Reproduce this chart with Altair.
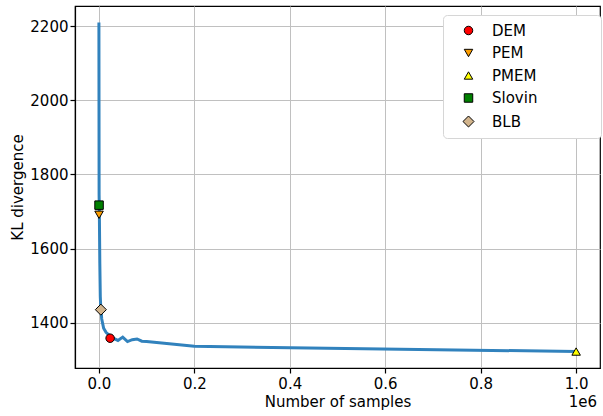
import altair as alt
import pandas as pd

# Curve: KL divergence vs number of samples
samples = [100, 500, 1000, 2000, 3000, 4000, 6000, 10000, 15000, 20000, 25000,
           30000, 40000, 50000, 60000, 70000, 80000, 90000, 100000, 200000, 1000000]
kl = [2210, 1745, 1700, 1560, 1470, 1440, 1410, 1385, 1374, 1368, 1364,
      1358, 1352, 1361, 1349, 1354, 1356, 1350, 1349, 1336, 1322]

# Method markers
methods = ["DEM", "PEM", "PMEM", "Slovin", "BLB"]
method_x = [23600, 400, 1000000, 400, 4200]
method_y = [1358, 1691, 1322, 1717, 1435]
method_colors = ["#ff0000", "#ff9f00", "#ffff00", "#008000", "#d2b48c"]
method_edges = ["black", "black", "black", "black", "black"]
method_shapes = ["circle", "triangle-down", "triangle-up", "square",
                 "M-1.3,0L0,-1.3L1.3,0L0,1.3Z"]

x_ticks = [0, 200000, 400000, 600000, 800000, 1000000]
y_ticks = [1400, 1600, 1800, 2000, 2200]

curve = pd.DataFrame({"samples": samples, "kl": kl})
pts = pd.DataFrame({"method": methods, "samples": method_x, "kl": method_y})
offset = pd.DataFrame({"t": ["1e6"]})

FONT = "DejaVu Sans"
FS = 15
W, H = 525, 362

xscale = alt.Scale(domain=[-50000, 1050000], nice=False, zero=False)
yscale = alt.Scale(domain=[1277.6, 2254.4], nice=False, zero=False)

xaxis = alt.Axis(values=x_ticks, labelExpr="format(datum.value/1e6, '.1f')",
                 title="Number of samples", grid=True, tickSize=5, labelPadding=3,
                 titlePadding=3)
yaxis = alt.Axis(values=y_ticks, format="d", title="KL divergence", grid=True,
                 tickSize=5, labelPadding=2, titlePadding=4)

line = alt.Chart(curve).mark_line(color="#3182bd", strokeWidth=3, clip=True).encode(
    x=alt.X("samples:Q", scale=xscale, axis=xaxis),
    y=alt.Y("kl:Q", scale=yscale, axis=yaxis),
)

# invisible (transparent) spacer title on the right widens the legend frame
leg = alt.Legend(title="MMMM", titleOrient="right", titlePadding=0,
                 titleFontSize=14, titleFont=FONT, titleOpacity=0)

points = alt.Chart(pts).mark_point(filled=True, strokeWidth=1, opacity=1,
                                   size=72).encode(
    x=alt.X("samples:Q", scale=xscale),
    y=alt.Y("kl:Q", scale=yscale),
    color=alt.Color("method:N", scale=alt.Scale(domain=methods, range=method_colors),
                    sort=methods, legend=leg),
    shape=alt.Shape("method:N", scale=alt.Scale(domain=methods, range=method_shapes),
                    sort=methods, legend=leg),
    stroke=alt.Stroke("method:N", scale=alt.Scale(domain=methods, range=method_edges),
                      sort=methods, legend=leg),
)

off = alt.Chart(offset).mark_text(align="right", baseline="middle", font=FONT,
                                  fontSize=FS, color="black").encode(
    text="t:N", x=alt.value(W - 3), y=alt.value(H + 34)
)

chart = alt.layer(line, points, off).properties(
    width=W, height=H,
    autosize=alt.AutoSizeParams(type="none"),
    padding={"left": 75, "top": 6, "right": 3, "bottom": 48},
).configure_view(
    stroke="black", strokeWidth=1.2
).configure_axis(
    labelFont=FONT, titleFont=FONT, labelFontSize=FS, titleFontSize=FS,
    titleFontWeight="normal", labelColor="black", titleColor="black",
    domainColor="black", domainWidth=1.2, tickColor="black", tickWidth=1.2,
    gridColor="#c0c0c0", gridWidth=1.0,
).configure_legend(
    orient="none", legendX=368, legendY=9, labelFont=FONT, labelFontSize=FS,
    labelColor="black", padding=8, rowPadding=6.5, symbolOffset=10, labelOffset=16,
    symbolOpacity=1, symbolSize=72, symbolStrokeWidth=1,
    fillColor="white", strokeColor="#d6d6d6", cornerRadius=4,
)

chart.save("out.html", embed_options={"renderer": "svg", "actions": False})
